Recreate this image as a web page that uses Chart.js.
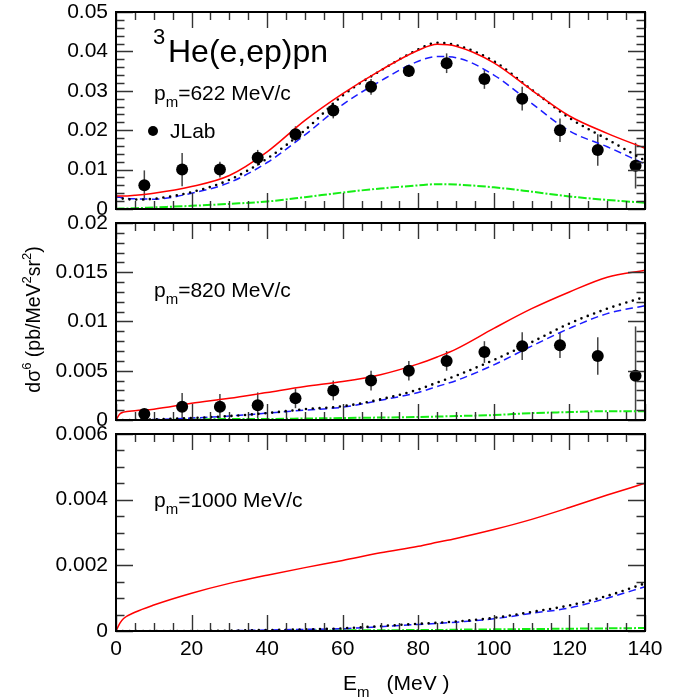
<!DOCTYPE html>
<html>
<head>
<meta charset="utf-8">
<script src="https://cdn.jsdelivr.net/npm/chart.js@4/dist/chart.umd.min.js"></script>
<style>
  body { margin: 0; background: #fff; }
  #wrap { position: relative; width: 689px; height: 699px; }
  canvas { position: absolute; left: 0; }
</style>
</head>
<body>
<div id="wrap">
  <canvas id="c1" width="689" height="222" style="top:0px"></canvas>
  <canvas id="c2" width="689" height="218" style="top:215px;background:#fff"></canvas>
  <canvas id="c3" width="689" height="273" style="top:426px;background:#fff"></canvas>
</div>
<script>
const E = [0, 1, 2, 5, 10, 20, 30, 40, 50, 60, 70, 80, 85, 90, 100, 110, 120, 130, 140];

// p_m = 622 MeV/c
const red1   = [0.0033, 0.0033, 0.0033, 0.0035, 0.0040, 0.0057, 0.0085, 0.0145, 0.0225, 0.0293, 0.0352, 0.0403, 0.0418, 0.0413, 0.0371, 0.0302, 0.0236, 0.0192, 0.0154];
const black1 = [0.0029, 0.0028, 0.0026, 0.0024, 0.0026, 0.0043, 0.0074, 0.0128, 0.0200, 0.0288, 0.0351, 0.0405, 0.0422, 0.0416, 0.0375, 0.0303, 0.0231, 0.0177, 0.0123];
const blue1  = [0.0031, 0.0030, 0.0028, 0.0026, 0.0025, 0.0040, 0.0067, 0.0118, 0.0188, 0.0265, 0.0325, 0.0375, 0.0387, 0.0384, 0.0340, 0.0268, 0.0198, 0.0158, 0.0114];
const green1 = [0.0000, 0.0001, 0.0001, 0.0002, 0.0004, 0.0008, 0.0013, 0.0019, 0.0030, 0.0042, 0.0052, 0.0060, 0.0063, 0.0062, 0.0055, 0.0044, 0.0032, 0.0023, 0.0016];

// p_m = 820 MeV/c
const red2   = [0, 0.0006, 0.0008, 0.00095, 0.0011, 0.0017, 0.0022, 0.0028, 0.0034, 0.0039, 0.0046, 0.0057, 0.0064, 0.0072, 0.0093, 0.0113, 0.0130, 0.0145, 0.0152];
const black2 = [0, 0, 0, 0, 0.00005, 0.0002, 0.0004, 0.0007, 0.0011, 0.0014, 0.0021, 0.0031, 0.0038, 0.0045, 0.0061, 0.0079, 0.0098, 0.0113, 0.0125];
const blue2  = [0, 0, 0, 0, 0.00005, 0.0002, 0.0004, 0.0007, 0.0010, 0.0013, 0.0020, 0.0028, 0.0034, 0.0040, 0.0056, 0.0075, 0.0093, 0.0108, 0.0116];
const green2 = [0, 0, 0, 0, 0, 0.00005, 0.0001, 0.0001, 0.00015, 0.0002, 0.00025, 0.0003, 0.00035, 0.0004, 0.0005, 0.0007, 0.0008, 0.0009, 0.0009];

// p_m = 1000 MeV/c
const red3   = [0, 0.00023, 0.00038, 0.00057, 0.00079, 0.00115, 0.00145, 0.0017, 0.00193, 0.00215, 0.00238, 0.00258, 0.0027, 0.00282, 0.00309, 0.0034, 0.00376, 0.00414, 0.0045];
const black3 = [0, 0, 0, 0, 0, 0, 0.00001, 0.00003, 0.00005, 0.00008, 0.00015, 0.00022, 0.00025, 0.00029, 0.0004, 0.00058, 0.00078, 0.00107, 0.00145];
const blue3  = [0, 0, 0, 0, 0, 0, 0.00001, 0.00003, 0.00005, 0.00007, 0.00013, 0.0002, 0.00023, 0.00027, 0.00037, 0.00054, 0.0007, 0.001, 0.00135];
const green3 = [0, 0, 0, 0, 0, 0, 0, 0, 0.00001, 0.00002, 0.00002, 0.00003, 0.00003, 0.00004, 0.00005, 0.00006, 0.00007, 0.00008, 0.00009];

// JLab data
const jlabE    = [7.5, 17.5, 27.5, 37.5, 47.5, 57.5, 67.5, 77.5, 87.5, 97.5, 107.5, 117.5, 127.5, 137.5];
const jlab1    = [0.0060, 0.0100, 0.0100, 0.0130, 0.0190, 0.0250, 0.0310, 0.0350, 0.0370, 0.0330, 0.0280, 0.0200, 0.0150, 0.0110];
const jlab1Err = [0.0038, 0.0042, 0.0020, 0.0020, 0.0020, 0.0020, 0.0020, 0.0015, 0.0025, 0.0025, 0.0030, 0.0030, 0.0040, 0.0058];
const jlab2    = [0.0006, 0.00135, 0.00135, 0.0015, 0.0022, 0.0030, 0.0040, 0.0050, 0.0060, 0.0069, 0.0075, 0.0076, 0.0065, 0.0045];
const jlab2Err = [0.0003, 0.0014, 0.0013, 0.0013, 0.0010, 0.0010, 0.0010, 0.0010, 0.0010, 0.0011, 0.0014, 0.0013, 0.0019, 0.0050];

// axis ticks
const xTicks   = [0, 20, 40, 60, 80, 100, 120, 140];
const yTicks1  = [0, 0.01, 0.02, 0.03, 0.04, 0.05];
const yLabels1 = ['0', '0.01', '0.02', '0.03', '0.04', '0.05'];
const yTicks2  = [0, 0.005, 0.01, 0.015, 0.02];
const yLabels2 = ['0', '0.005', '0.01', '0.015', '0.02'];
const yTicks3  = [0, 0.002, 0.004, 0.006];
const yLabels3 = ['0', '0.002', '0.004', '0.006'];

const FONT = "'Liberation Sans', Arial, Helvetica, sans-serif";
Chart.defaults.font.family = FONT;
Chart.defaults.font.size = 21;
Chart.defaults.color = '#000';

// ROOT-like frame with inward ticks on all four sides
const rootFrame = {
  id: 'rootFrame',
  afterDraw(chart, args, opts) {
    const { ctx, chartArea: a, scales } = chart;
    const xs = scales.x, ys = scales.y;
    ctx.save();
    ctx.strokeStyle = '#333';
    ctx.lineWidth = 1.4;
    ctx.beginPath();
    for (let v = xs.min; v <= xs.max + 1e-9; v += opts.xMinor) {
      const px = Math.round(xs.getPixelForValue(v)) + 0.5;
      const major = Math.abs(v / opts.xMajor - Math.round(v / opts.xMajor)) < 1e-6;
      const len = major ? 16 : 8;
      ctx.moveTo(px, a.bottom); ctx.lineTo(px, a.bottom - len);
      ctx.moveTo(px, a.top); ctx.lineTo(px, a.top + len);
    }
    for (let v = ys.min; v <= ys.max + 1e-12; v += opts.yMinor) {
      const py = Math.round(ys.getPixelForValue(v)) + 0.5;
      const major = Math.abs(v / opts.yMajor - Math.round(v / opts.yMajor)) < 1e-6;
      const len = major ? 17 : 8.5;
      ctx.moveTo(a.left, py); ctx.lineTo(a.left + len, py);
      ctx.moveTo(a.right, py); ctx.lineTo(a.right - len, py);
    }
    ctx.stroke();
    ctx.strokeStyle = '#000';
    ctx.lineWidth = 2;
    ctx.strokeRect(a.left, a.top, a.right - a.left, a.bottom - a.top);
    ctx.restore();
  }
};

// vertical error bars for datasets that carry an errors array
const errorBars = {
  id: 'errorBars',
  beforeDatasetsDraw(chart) {
    const { ctx, chartArea: a, scales } = chart;
    ctx.save();
    ctx.beginPath();
    ctx.rect(a.left, a.top, a.right - a.left, a.bottom - a.top);
    ctx.clip();
    ctx.strokeStyle = '#444';
    ctx.lineWidth = 1.5;
    chart.data.datasets.forEach(ds => {
      if (!ds.errors) return;
      ds.data.forEach((p, i) => {
        const px = scales.x.getPixelForValue(p.x);
        ctx.beginPath();
        ctx.moveTo(px, scales.y.getPixelForValue(p.y - ds.errors[i]));
        ctx.lineTo(px, scales.y.getPixelForValue(p.y + ds.errors[i]));
        ctx.stroke();
      });
    });
    ctx.restore();
  }
};

// draw text pieces one after another (for sub/superscripts)
function richText(ctx, x, y, parts) {
  parts.forEach(p => {
    ctx.font = p.size + 'px ' + FONT;
    ctx.fillText(p.t, x, y + (p.dy || 0));
    x += ctx.measureText(p.t).width;
  });
  return x;
}

function pmLabel(value) {
  return [
    { t: 'p', size: 21 },
    { t: 'm', size: 15, dy: 7 },
    { t: '=' + value + ' MeV/c', size: 21 }
  ];
}

function curve(values, style) {
  return Object.assign({
    type: 'line',
    data: E.map((e, i) => ({ x: e, y: values[i] })),
    pointRadius: 0,
    fill: false,
    cubicInterpolationMode: 'monotone'
  }, style);
}

const redStyle   = { borderColor: '#ff0000', borderWidth: 1.5 };
const blackStyle = { borderColor: '#000', borderWidth: 2.6, borderDash: [0, 6.8], borderCapStyle: 'round' };
const blueStyle  = { borderColor: '#1c1cff', borderWidth: 1.5, borderDash: [7.5, 4.5] };
const greenStyle = { borderColor: '#14ee14', borderWidth: 2, borderDash: [8.5, 2, 2, 2] };

function points(values, errors) {
  return {
    type: 'scatter',
    data: jlabE.map((e, i) => ({ x: e, y: values[i] })),
    errors: errors,
    showLine: false,
    pointRadius: 6,
    pointHoverRadius: 6,
    backgroundColor: '#000',
    borderColor: '#000',
    borderWidth: 0
  };
}

function makePanel(id, cfg) {
  const datasets = [];
  if (cfg.pts) datasets.push(cfg.pts);
  datasets.push(curve(cfg.red, redStyle), curve(cfg.black, blackStyle), curve(cfg.blue, blueStyle), curve(cfg.green, greenStyle));
  return new Chart(document.getElementById(id), {
    type: 'line',
    data: { datasets },
    options: {
      responsive: false,
      maintainAspectRatio: false,
      animation: false,
      events: [],
      layout: { padding: { top: cfg.padTop, bottom: cfg.padBottom, left: 0, right: 44 } },
      scales: {
        x: {
          type: 'linear', min: 0, max: 140,
          display: cfg.showX,
          grid: { display: false, drawTicks: false },
          border: { display: false },
          ticks: { padding: 6, autoSkip: false, maxRotation: 0 },
          afterBuildTicks: s => { s.ticks = xTicks.map(v => ({ value: v })); },
          afterFit: s => {
            if (cfg.showX) s.height = 68;
            s.paddingLeft = 0; s.paddingRight = 0;
          }
        },
        y: {
          type: 'linear', min: 0, max: cfg.yMax,
          grid: { display: false, drawTicks: false },
          border: { display: false },
          ticks: { padding: 8, autoSkip: false, callback: (v, i) => cfg.yLabels[i] },
          afterBuildTicks: s => { s.ticks = cfg.yTicks.map(v => ({ value: v })); },
          afterFit: s => {
            s.width = 116;
            s.paddingTop = 0; s.paddingBottom = 0;
          }
        }
      },
      plugins: {
        legend: { display: false },
        tooltip: { enabled: false },
        rootFrame: cfg.frame
      }
    },
    plugins: [rootFrame, errorBars, { id: 'notes', afterDraw: cfg.notes }]
  });
}

makePanel('c1', {
  red: red1, black: black1, blue: blue1, green: green1,
  pts: points(jlab1, jlab1Err),
  yMax: 0.05, yTicks: yTicks1, yLabels: yLabels1,
  padTop: 12, padBottom: 13, showX: false,
  frame: { xMinor: 5, xMajor: 20, yMinor: 0.002, yMajor: 0.01 },
  notes(chart) {
    const { ctx, chartArea: a } = chart;
    ctx.save();
    ctx.fillStyle = '#000';
    ctx.textBaseline = 'alphabetic';
    richText(ctx, a.left + 37, a.top + 32, [{ t: '3', size: 22 }]);
    richText(ctx, a.left + 52, a.top + 50, [{ t: 'He(e,ep)pn', size: 32 }]);
    richText(ctx, a.left + 38, a.top + 88, pmLabel('622'));
    ctx.beginPath();
    ctx.arc(a.left + 37, a.top + 119, 5, 0, Math.PI * 2);
    ctx.fill();
    richText(ctx, a.left + 54, a.top + 126, [{ t: 'JLab', size: 21 }]);
    ctx.restore();
  }
});

makePanel('c2', {
  red: red2, black: black2, blue: blue2, green: green2,
  pts: points(jlab2, jlab2Err),
  yMax: 0.02, yTicks: yTicks2, yLabels: yLabels2,
  padTop: 8, padBottom: 13, showX: false,
  frame: { xMinor: 5, xMajor: 20, yMinor: 0.001, yMajor: 0.005 },
  notes(chart) {
    const { ctx, chartArea: a } = chart;
    ctx.save();
    ctx.fillStyle = '#000';
    richText(ctx, a.left + 38, a.top + 74, pmLabel('820'));
    // y axis title, rotated, centred on the middle panel
    const parts = [
      { t: 'd\u03c3', size: 19.5 }, { t: '6', size: 13, dy: -9 },
      { t: ' (pb/MeV', size: 19.5 }, { t: '2', size: 13, dy: -9 },
      { t: 'sr', size: 19.5 }, { t: '2', size: 13, dy: -9 }, { t: ')', size: 19.5 }
    ];
    let w = 0;
    parts.forEach(p => { ctx.font = p.size + 'px ' + FONT; w += ctx.measureText(p.t).width; });
    ctx.translate(40, (a.top + a.bottom) / 2 - 2);
    ctx.rotate(-Math.PI / 2);
    richText(ctx, -w / 2, 0, parts);
    ctx.restore();
  }
});

makePanel('c3', {
  red: red3, black: black3, blue: blue3, green: green3,
  yMax: 0.006, yTicks: yTicks3, yLabels: yLabels3,
  padTop: 8, padBottom: 0, showX: true,
  frame: { xMinor: 5, xMajor: 20, yMinor: 0.0005, yMajor: 0.002 },
  notes(chart) {
    const { ctx, chartArea: a } = chart;
    ctx.save();
    ctx.fillStyle = '#000';
    richText(ctx, a.left + 38, a.top + 73, pmLabel('1000'));
    // x axis title
    const x = richText(ctx, a.left + 227, a.bottom + 59, [{ t: 'E', size: 21 }, { t: 'm', size: 15, dy: 7 }]);
    richText(ctx, x + 17, a.bottom + 59, [{ t: '(MeV )', size: 21 }]);
    ctx.restore();
  }
});
</script>
</body>
</html>
